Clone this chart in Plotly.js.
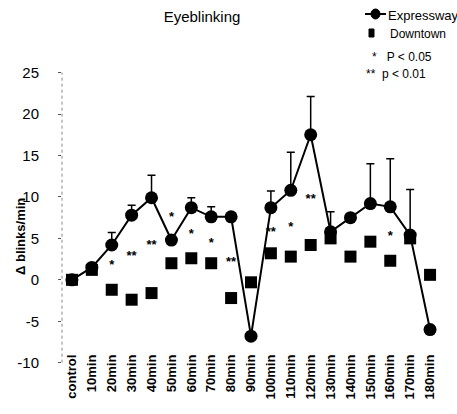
<!DOCTYPE html>
<html><head><meta charset="utf-8">
<script src="https://cdn.plot.ly/plotly-3.0.1.min.js"></script>
<style>html,body{margin:0;padding:0;background:#fff}#chart{width:457px;height:414px}</style>
</head><body><div id="chart"></div>
<script>
const categories = ["control","10min","20min","30min","40min","50min","60min","70min","80min","90min","100min","110min","120min","130min","140min","150min","160min","170min","180min"];
const expressway = [0, 1.5, 4.2, 7.8, 9.9, 4.8, 8.7, 7.6, 7.6, -6.8, 8.7, 10.8, 17.5, 5.8, 7.5, 9.2, 8.8, 5.4, -6.0];
const expresswayErr = [0, 0, 1.5, 1.2, 2.7, 0, 1.2, 1.2, 0, 0, 2.0, 4.6, 4.6, 2.4, 0, 4.8, 5.8, 5.5, 0];
const downtown = [0, 1.2, -1.2, -2.4, -1.6, 2.0, 2.6, 2.0, -2.2, -0.3, 3.2, 2.8, 4.2, 5.0, 2.8, 4.6, 2.3, 5.0, 0.6];
const sigCategories = ["20min","30min","40min","50min","60min","70min","80min","100min","110min","120min","160min"];
const sigValues = [1.7, 2.8, 4.1, 7.5, 5.4, 4.4, 2.0, 5.7, 6.3, 9.6, 5.2];
const sigLabels = ["*","**","**","*","*","*","**","**","*","**","*"];
const yTicks = [25, 20, 15, 10, 5, 0, -5, -10];
const legendNames = ["Expressway", "Downtown"];
const pLabels = ["*   P &lt; 0.05", "**  p &lt; 0.01"];

const FONT = '"Liberation Sans", Arial, sans-serif';
const NARROW = '"Liberation Sans Narrow", "Liberation Sans", Arial, sans-serif';

// pixel helpers for the hand-made legend (paper coords)
const L = 62, R = 17, T = 56, B = 43, W = 457, H = 414;
const pw = W - L - R, ph = H - T - B;
const px = x => (x - L) / pw;
const py = y => (H - B - y) / ph;

const traces = [
  {
    x: categories, y: downtown, name: legendNames[1], type: 'scatter', mode: 'markers',
    marker: {symbol: 'square', size: 12, color: '#000'},
    cliponaxis: false, showlegend: false
  },
  {
    x: categories, y: expressway, name: legendNames[0], type: 'scatter', mode: 'lines+markers',
    line: {color: '#000', width: 2},
    marker: {symbol: 'circle', size: 13, color: '#000'},
    error_y: {type: 'data', array: expresswayErr, arrayminus: expresswayErr.map(() => 0), symmetric: false,
              color: '#000', thickness: 1.5, width: 4},
    cliponaxis: false, showlegend: false
  },
  {
    x: sigCategories, y: sigValues, text: sigLabels, type: 'scatter', mode: 'text',
    textfont: {family: FONT, size: 13, color: '#000', weight: 'bold'}, showlegend: false, hoverinfo: 'skip',
    cliponaxis: false
  }
];

const layout = {
  width: W, height: H,
  margin: {l: L, r: R, t: T, b: B},
  paper_bgcolor: '#fff', plot_bgcolor: '#fff',
  font: {family: FONT, color: '#000', size: 11},
  title: {text: 'Eyeblinking', font: {family: FONT, size: 15, color: '#000'}, xref: 'container', x: 202/W, xanchor: 'center', yref: 'container', y: 1 - 17/H, yanchor: 'middle'},
  showlegend: false,
  xaxis: {
    type: 'category', categoryorder: 'array', categoryarray: categories,
    range: [-0.5, 18.5], showgrid: false, zeroline: false, showline: false,
    tickangle: -90, ticks: '', ticklabelstandoff: -20,
    tickfont: {family: FONT, size: 13, color: '#000', weight: 'bold'},
    automargin: false
  },
  yaxis: {
    range: [-11, 27], showgrid: false, zeroline: false, showline: false,
    tickvals: yTicks, ticktext: yTicks.map(String),
    ticks: 'outside', ticklen: 3, tickcolor: '#555', ticklabelstandoff: 16,
    tickfont: {family: NARROW, size: 15, color: '#000'}, automargin: false
  },
  shapes: [
    {type: 'line', xref: 'paper', yref: 'y', x0: 0, x1: 0, y0: -10, y1: 25, line: {color: '#888', width: 1, dash: 'dot'}},
    // legend glyphs
    {type: 'line', xref: 'paper', yref: 'paper', x0: px(365), x1: px(386), y0: py(14), y1: py(14), line: {color: '#000', width: 2}},
    {type: 'circle', xref: 'paper', yref: 'paper', x0: px(371), x1: px(380), y0: py(19), y1: py(9), fillcolor: '#000', line: {color: '#000', width: 1}},
    {type: 'rect', xref: 'paper', yref: 'paper', x0: px(369), x1: px(374), y0: py(37), y1: py(29), fillcolor: '#000', line: {color: '#000', width: 1}}
  ],
  annotations: [
    {text: '<b>Δ blinks/min</b>', xref: 'paper', yref: 'paper', x: px(20), y: py(237), xanchor: 'center', yanchor: 'middle',
     textangle: -90, showarrow: false, font: {family: FONT, size: 13, color: '#000'}},
    {text: legendNames[0], xref: 'paper', yref: 'paper', x: px(386), y: py(15), xanchor: 'left', yanchor: 'middle',
     showarrow: false, font: {family: FONT, size: 13, color: '#000'}},
    {text: legendNames[1], xref: 'paper', yref: 'paper', x: px(388), y: py(34), xanchor: 'left', yanchor: 'middle',
     showarrow: false, font: {family: FONT, size: 12, color: '#000'}},
    {text: pLabels[0], xref: 'paper', yref: 'paper', x: px(370), y: py(57), xanchor: 'left', yanchor: 'middle',
     showarrow: false, font: {family: FONT, size: 12, color: '#000'}},
    {text: pLabels[1], xref: 'paper', yref: 'paper', x: px(364), y: py(74), xanchor: 'left', yanchor: 'middle',
     showarrow: false, font: {family: FONT, size: 12, color: '#000'}}
  ]
};

Plotly.newPlot('chart', traces, layout, {displayModeBar: false, staticPlot: true});
</script>
</body></html>
